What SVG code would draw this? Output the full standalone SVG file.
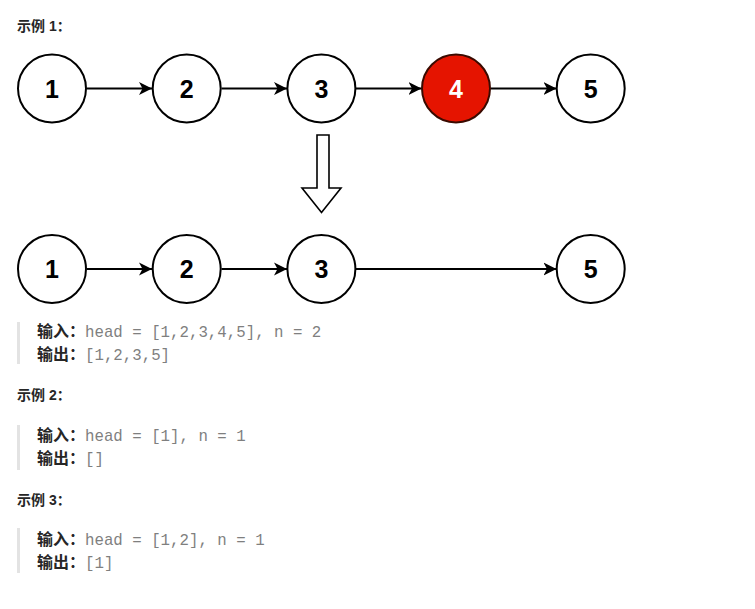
<svg xmlns="http://www.w3.org/2000/svg" width="755" height="609" viewBox="0 0 755 609">
<defs>
<style>
.node{fill:#fff;stroke:#000;stroke-width:2}
.red{fill:#e51400;stroke:#3a0a00;stroke-width:2}
.lbl{font-family:"Liberation Sans",Arial,sans-serif;font-weight:bold;font-size:25px;text-anchor:middle;fill:#000}
.wl{fill:#fff}
.edge{stroke:#000;stroke-width:2;fill:none;marker-end:url(#ah)}
.h{font-family:"Liberation Sans","Noto Sans CJK SC",sans-serif;font-weight:bold;font-size:14px;fill:#262626}
.k{font-family:"Noto Sans CJK SC","Liberation Sans",sans-serif;font-weight:bold;font-size:16px;fill:#262626}
.c{font-family:"Liberation Mono","DejaVu Sans Mono",monospace;font-size:15.75px;fill:#7f7f7f}
.bar{fill:#e3e3e3}
</style>
<marker id="ah" markerUnits="userSpaceOnUse" viewBox="0 0 14 14" refX="13" refY="7" markerWidth="14" markerHeight="14" orient="auto">
<path d="M0,0.5 L13,7 L0,13.5 L3.5,7 Z" fill="#000"/>
</marker>
</defs>
<rect width="755" height="609" fill="#fff"/>

<text class="h" x="17" y="31">示例 1：</text>

<g id="connectors">
<line class="edge" x1="87" y1="88.5" x2="152" y2="88.5"/>
<line class="edge" x1="221.5" y1="88.5" x2="287" y2="88.5"/>
<line class="edge" x1="356" y1="88.5" x2="421.5" y2="88.5"/>
<line class="edge" x1="490.5" y1="88.5" x2="556.5" y2="88.5"/>
<line class="edge" x1="87" y1="269" x2="152" y2="269"/>
<line class="edge" x1="221.5" y1="269" x2="287" y2="269"/>
<line class="edge" x1="356" y1="269" x2="556.5" y2="269"/>
</g>

<g id="r1n1"><circle class="node" cx="52" cy="88.5" r="34"/><text class="lbl" x="52" y="97.5">1</text></g>
<g id="r1n2"><circle class="node" cx="186.7" cy="88.5" r="34"/><text class="lbl" x="186.7" y="97.5">2</text></g>
<g id="r1n3"><circle class="node" cx="321.4" cy="88.5" r="34"/><text class="lbl" x="321.4" y="97.5">3</text></g>
<g id="r1n4"><circle class="red" cx="456" cy="88.5" r="34"/><text class="lbl wl" x="456" y="97.5">4</text></g>
<g id="r1n5"><circle class="node" cx="590.7" cy="88.5" r="34"/><text class="lbl" x="590.7" y="97.5">5</text></g>

<g id="transform-arrow">
<polygon points="317,135 329,135 329,188 341,188 321.5,212.5 302,188 317,188" fill="#fff" stroke="#000" stroke-width="1.6" stroke-linejoin="miter"/>
</g>

<g id="r2n1"><circle class="node" cx="52" cy="269" r="34"/><text class="lbl" x="52" y="278">1</text></g>
<g id="r2n2"><circle class="node" cx="186.7" cy="269" r="34"/><text class="lbl" x="186.7" y="278">2</text></g>
<g id="r2n3"><circle class="node" cx="321.4" cy="269" r="34"/><text class="lbl" x="321.4" y="278">3</text></g>
<g id="r2n5"><circle class="node" cx="590.7" cy="269" r="34"/><text class="lbl" x="590.7" y="278">5</text></g>

<rect class="bar" x="17" y="322" width="3" height="42"/>
<text class="k" x="37" y="337">输入：</text><text class="c" x="85" y="337">head = [1,2,3,4,5], n = 2</text>
<text class="k" x="37" y="360">输出：</text><text class="c" x="85" y="360">[1,2,3,5]</text>

<text class="h" x="17" y="400">示例 2：</text>
<rect class="bar" x="17" y="425" width="3" height="45"/>
<text class="k" x="37" y="441">输入：</text><text class="c" x="85" y="441">head = [1], n = 1</text>
<text class="k" x="37" y="464">输出：</text><text class="c" x="85" y="464">[]</text>

<text class="h" x="17" y="505">示例 3：</text>
<rect class="bar" x="17" y="528" width="3" height="45"/>
<text class="k" x="37" y="545">输入：</text><text class="c" x="85" y="545">head = [1,2], n = 1</text>
<text class="k" x="37" y="568">输出：</text><text class="c" x="85" y="568">[1]</text>
</svg>
